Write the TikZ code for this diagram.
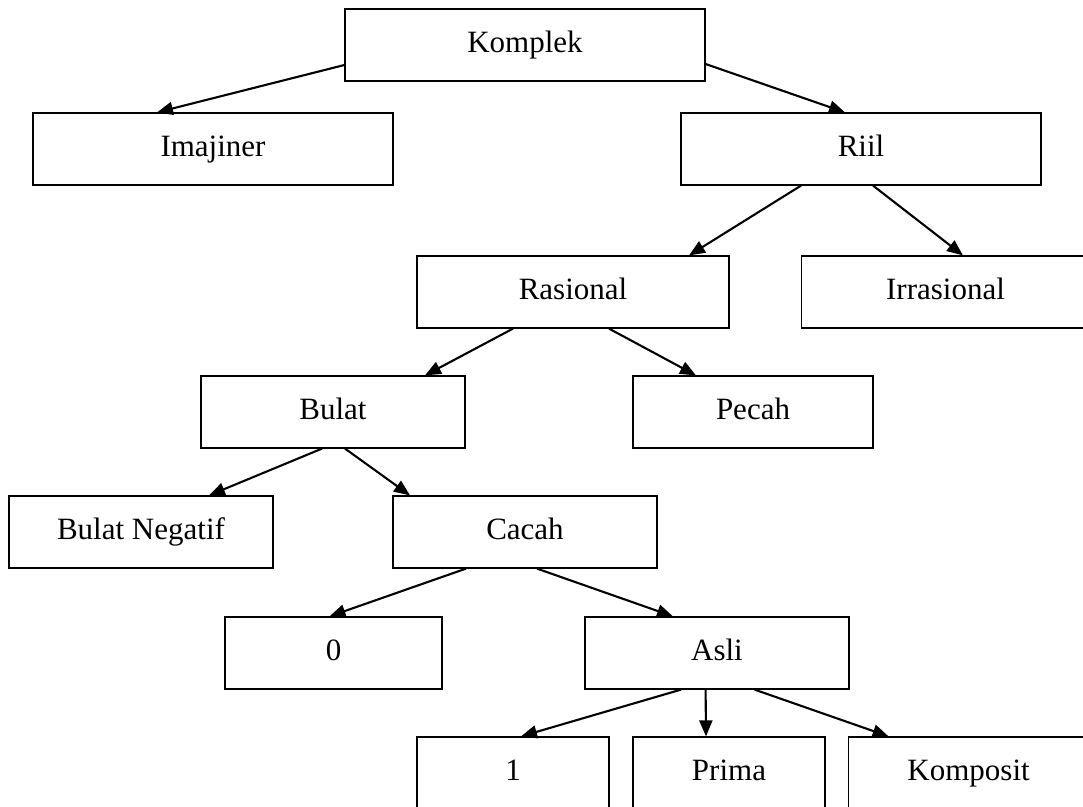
\documentclass[tikz,border=0pt]{standalone}
\usepackage{fontspec}
\setmainfont{Liberation Serif}
\usetikzlibrary{arrows.meta,calc}
\begin{document}
\begin{tikzpicture}[x=1pt,y=1pt,
  box/.style={draw=black,line width=1.2pt,rectangle,minimum height=72pt,inner sep=0pt,
    text height=21pt,text depth=7pt,
    font=\fontsize{31}{37}\selectfont,anchor=center},
  arr/.style={line width=2.1pt,-{Triangle[length=16pt,width=13pt]}}]
\useasboundingbox (0,0) rectangle (1083,-806);
\begin{scope}
\clip (0,0) rectangle (1083,-806);
\node[box,minimum width=360pt] (komplek) at (525,-45) {Komplek};
\node[box,minimum width=360pt] (imaj) at (213,-149) {Imajiner};
\node[box,minimum width=360pt] (riil) at (861,-149) {Riil};
\node[box,minimum width=312pt] (rasional) at (573,-292) {Rasional};
\node[box,minimum width=288pt] (irrasional) at (945.5,-292) {Irrasional};
\node[box,minimum width=264pt] (bulat) at (333,-412) {Bulat};
\node[box,minimum width=240pt] (pecah) at (753,-412) {Pecah};
\node[box,minimum width=264pt] (bneg) at (141,-532) {Bulat Negatif};
\node[box,minimum width=264pt] (cacah) at (525,-532) {Cacah};
\node[box,minimum width=217pt] (nol) at (333.5,-653) {0};
\node[box,minimum width=264pt] (asli) at (717,-653) {Asli};
\node[box,minimum width=192pt] (satu) at (513,-773) {1};
\node[box,minimum width=192pt] (prima) at (729,-773) {Prima};
\node[box,minimum width=240pt] (komposit) at (968.6,-773) {Komposit};
\end{scope}
\draw[arr] ($(komplek.west)+(0,-20)$) -- ($(imaj.north)+(-56,0)$);
\draw[arr] ($(komplek.east)+(0,-19)$) -- ($(riil.north)+(-16,0)$);
\draw[arr] ($(riil.south)+(-60,0)$) -- ($(rasional.north)+(116,0)$);
\draw[arr] ($(riil.south)+(12,0)$) -- ($(irrasional.north)+(17.5,0)$);
\draw[arr] ($(rasional.south)+(-60,0)$) -- ($(bulat.north)+(92,0)$);
\draw[arr] ($(rasional.south)+(36,0)$) -- ($(pecah.north)+(-57,0)$);
\draw[arr] ($(bulat.south)+(-11,0)$) -- ($(bneg.north)+(68,0)$);
\draw[arr] ($(bulat.south)+(12,0)$) -- ($(cacah.north)+(-115,0)$);
\draw[arr] ($(cacah.south)+(-59,0)$) -- ($(nol.north)+(-4,0)$);
\draw[arr] ($(cacah.south)+(12,0)$) -- ($(asli.north)+(-44,0)$);
\draw[arr] ($(asli.south)+(-36,0)$) -- ($(satu.north)+(8,0)$);
\draw[arr] ($(asli.south)+(-11.4,0)$) -- ($(prima.north)+(-23,0)$);
\draw[arr] ($(asli.south)+(37.6,0)$) -- ($(komposit.north)+(-80,0)$);
\end{tikzpicture}
\end{document}
